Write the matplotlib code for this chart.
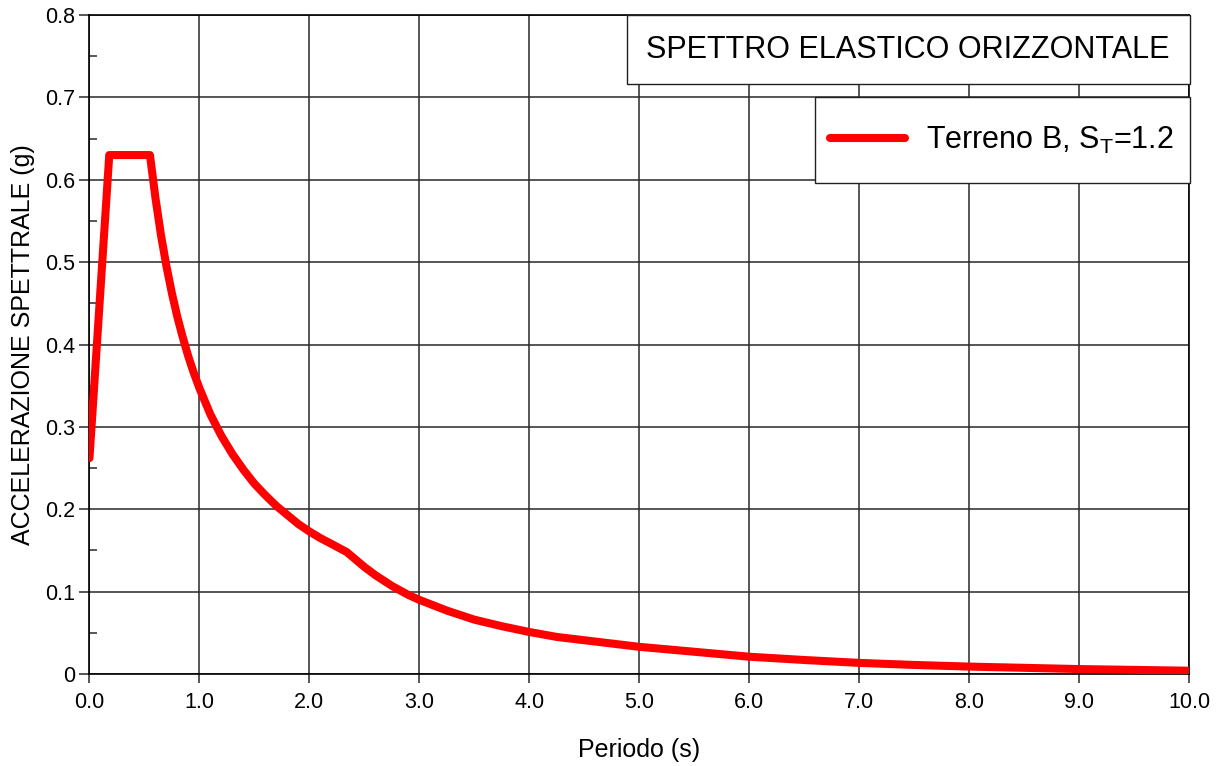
import numpy as np
import matplotlib.pyplot as plt
from matplotlib.patches import Rectangle
from matplotlib.ticker import MultipleLocator

plt.rcParams['font.family'] = ['Liberation Sans', 'DejaVu Sans']
plt.rcParams['mathtext.fontset'] = 'custom'
plt.rcParams['mathtext.rm'] = 'Liberation Sans'

# elastic spectrum, period (s) vs spectral acceleration (g)
periodo = [0.0, 0.18, 0.55, 0.6, 0.65, 0.7, 0.75, 0.8, 0.85, 0.9, 0.95,
           1.0, 1.1, 1.2, 1.3, 1.4, 1.5, 1.6, 1.7, 1.8, 1.9, 2.0, 2.1,
           2.2, 2.34, 2.5, 2.6, 2.75, 2.9, 3.0, 3.25, 3.5, 3.75, 4.0,
           4.25, 4.5, 5.0, 5.5, 6.0, 6.5, 7.0, 7.5, 8.0, 8.5, 9.0, 9.5,
           10.0]
accelerazione = [0.262, 0.630, 0.630, 0.578, 0.533, 0.495, 0.462, 0.433,
                 0.408, 0.385, 0.365, 0.347, 0.315, 0.289, 0.267, 0.248,
                 0.231, 0.217, 0.204, 0.193, 0.182, 0.173, 0.165, 0.158,
                 0.148, 0.130, 0.120, 0.107, 0.096, 0.090, 0.077, 0.066,
                 0.058, 0.051, 0.045, 0.041, 0.033, 0.027, 0.021, 0.017,
                 0.0135, 0.011, 0.009, 0.0075, 0.006, 0.005, 0.004]

x_ticks = np.arange(0, 10.01, 1.0)
x_labels = ['%.1f' % v for v in x_ticks]
y_ticks = np.arange(0, 0.801, 0.1)
y_labels = ['0'] + ['%.1f' % v for v in y_ticks[1:]]

fig = plt.figure(figsize=(12.19, 7.66), dpi=100)
ax = fig.add_axes([0.0734, 0.1201, 0.9020, 0.8603])

ax.plot(periodo, accelerazione, color='#ff0000', lw=5.8,
        solid_capstyle='round', solid_joinstyle='round', zorder=3,
        label=r'Terreno B, S$_\mathregular{T}$=1.2')

ax.set_xlim(0, 10)
ax.set_ylim(0, 0.8)
ax.set_xticks(x_ticks)
ax.set_xticklabels(x_labels)
ax.set_yticks(y_ticks)
ax.set_yticklabels(y_labels)
ax.yaxis.set_minor_locator(MultipleLocator(0.05))

ax.grid(True, which='major', color='#282828', lw=1.1)
ax.set_axisbelow(True)
for s in ax.spines.values():
    s.set_color('black')
    s.set_linewidth(1.2)

ax.tick_params(axis='both', which='major', labelsize=15.5, color='#282828',
               width=1.1, direction='out')
ax.tick_params(axis='x', which='major', length=6.5, pad=6.5)
ax.tick_params(axis='y', which='major', length=7.5, pad=3)
ax.tick_params(axis='y', which='minor', direction='in', length=6,
               width=1.1, color='#282828')

ax.set_xlabel('Periodo (s)', fontsize=18, labelpad=18)
ax.set_ylabel('ACCELERAZIONE SPETTRALE (g)', fontsize=18, labelpad=7)

# title box in the upper right corner
tx, ty, tw, th = 0.4886, 0.895, 0.512, 0.105
ax.add_patch(Rectangle((tx, ty), tw, th, transform=ax.transAxes,
                       facecolor='white', edgecolor='#202020', lw=1.0,
                       zorder=5, clip_on=False))
ax.text(tx + tw / 2, ty + th / 2, 'SPETTRO ELASTICO ORIZZONTALE',
        transform=ax.transAxes, ha='center', va='center', fontsize=22,
        zorder=6)

# legend box below it
lx, ly, lw_, lh = 0.6595, 0.7451, 0.3418, 0.1305
ax.add_patch(Rectangle((lx, ly), lw_, lh, transform=ax.transAxes,
                       facecolor='white', edgecolor='#202020', lw=1.0,
                       zorder=5, clip_on=False))
leg = ax.legend(loc='center left', bbox_to_anchor=(0.6732, ly + lh / 2),
                fontsize=22, frameon=False, borderpad=0, handlelength=2.46,
                handletextpad=0.69, borderaxespad=0)
leg.set_zorder(6)

fig.savefig('out.png', dpi=100)
